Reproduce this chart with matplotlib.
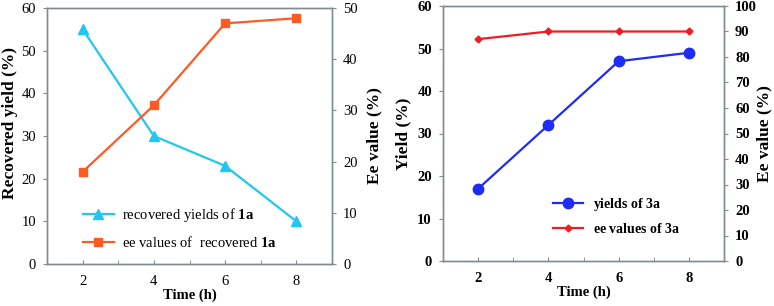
import matplotlib
matplotlib.use("Agg")
import matplotlib.pyplot as plt
from matplotlib.ticker import MultipleLocator

plt.rcParams['font.family'] = ['Liberation Serif', 'DejaVu Serif']
plt.rcParams['mathtext.fontset'] = 'custom'
plt.rcParams['mathtext.bf'] = 'Liberation Serif:bold'
plt.rcParams['mathtext.rm'] = 'Liberation Serif'

# data
time_h = [2, 4, 6, 8]
recovered_yield_1a = [55, 30, 23, 10]
ee_recovered_1a = [18, 31, 47, 48]
yield_3a = [17, 32, 47, 49]
ee_3a = [87, 90, 90, 90]

spine_col = '#7f8c94'
W, H = 774, 306


def frac(l, r, t, b):
    return [l / W, 1 - b / H, (r - l) / W, (b - t) / H]


def style_axes(ax, ax2, bold_ticks):
    for a in (ax, ax2):
        for s in a.spines.values():
            s.set_color(spine_col)
            s.set_linewidth(1.0)
    ax.set_xlim(1, 9)
    ax.set_xticks(time_h)
    ax.xaxis.set_minor_locator(MultipleLocator(1))
    # small inward ticks at every hour, labels only on the even ones
    ax.tick_params(axis='x', which='both', direction='in', length=3,
                   color=spine_col)
    ax.tick_params(axis='x', which='major', pad=8, labelsize=10.5)
    ax.tick_params(axis='y', direction='out', length=3, color=spine_col,
                   labelsize=10.5, pad=5)
    ax2.tick_params(axis='y', direction='out', length=3, color=spine_col,
                    labelsize=10.5, pad=5)
    if bold_ticks:
        for lab in ax.get_xticklabels() + ax.get_yticklabels() + ax2.get_yticklabels():
            lab.set_fontweight('bold')


fig = plt.figure(figsize=(W / 100, H / 100), dpi=100)

# ---- left panel ----
ax1 = fig.add_axes(frac(47, 332, 8, 264))
ax1b = ax1.twinx()
l1, = ax1.plot(time_h, recovered_yield_1a, color='#1ec8f0', lw=1.6,
               marker='^', ms=6.5, label='recovered yields of $\\mathbf{1a}$')
l2, = ax1b.plot(time_h, ee_recovered_1a, color='#ff5a24', lw=1.6,
                marker='s', ms=6, label='ee values of  recovered $\\mathbf{1a}$')
ax1.set_ylim(0, 60)
ax1.set_yticks(range(0, 61, 10))
ax1b.set_ylim(0, 50)
ax1b.set_yticks(range(0, 51, 10))
style_axes(ax1, ax1b, False)
ax1.set_ylabel('Recovered yield (%)', fontsize=12.5, fontweight='bold')
ax1.yaxis.set_label_coords(-0.10, 0.55)
ax1b.set_ylabel('Ee value (%)', fontsize=12.5, fontweight='bold')
ax1b.yaxis.set_label_coords(1.12, 0.5)
ax1.set_xlabel('Time (h)', fontsize=10.5, fontweight='bold', labelpad=0)
ax1.legend(handles=[l1, l2], loc='upper left', bbox_to_anchor=(0.126, 0.225),
           frameon=False, fontsize=10.5, handlelength=2.1, handletextpad=0.55,
           labelspacing=0.75, borderaxespad=0, borderpad=0)

# ---- right panel ----
ax2 = fig.add_axes(frac(443, 724, 6, 261))
ax2b = ax2.twinx()
l3, = ax2.plot(time_h, yield_3a, color='#1f2cf5', lw=1.6,
               marker='o', ms=7.5, label='yields of $\\mathbf{3a}$')
l4, = ax2b.plot(time_h, ee_3a, color='#f01c22', lw=1.6,
                marker='D', ms=3.5, label='ee values of $\\mathbf{3a}$')
ax2.set_ylim(0, 60)
ax2.set_yticks(range(0, 61, 10))
ax2b.set_ylim(0, 100)
ax2b.set_yticks(range(0, 101, 10))
style_axes(ax2, ax2b, True)
ax2.set_ylabel('Yield (%)', fontsize=12.5, fontweight='bold')
ax2.yaxis.set_label_coords(-0.114, 0.5)
ax2b.set_ylabel('Ee value (%)', fontsize=12.5, fontweight='bold')
ax2b.yaxis.set_label_coords(1.115, 0.5)
ax2.set_xlabel('Time (h)', fontsize=10.5, fontweight='bold', labelpad=0)
leg = ax2.legend(handles=[l3, l4], loc='upper left', bbox_to_anchor=(0.39, 0.255),
                 frameon=False, fontsize=10, handlelength=2.2, handletextpad=0.7,
                 labelspacing=0.65, borderaxespad=0, borderpad=0)
for t in leg.get_texts():
    t.set_fontweight('bold')

fig.savefig('out.png', dpi=100)
